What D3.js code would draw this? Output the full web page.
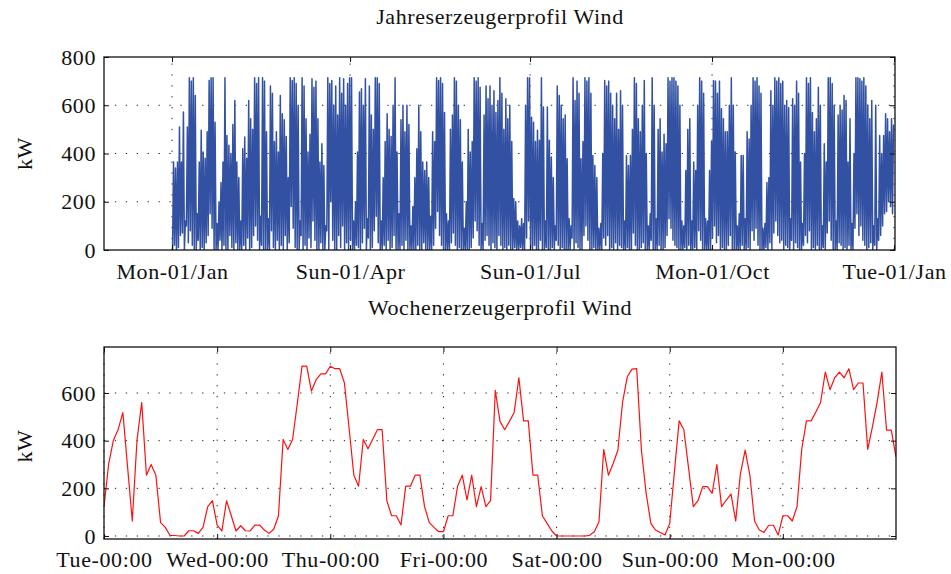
<!DOCTYPE html>
<html>
<head>
<meta charset="utf-8">
<script src="https://cdn.jsdelivr.net/npm/d3@7"></script>
<style>
  body { margin: 0; background: #fff; }
  svg { display: block; }
  text { font-family: "Liberation Serif", "Times New Roman", serif; fill: #111; letter-spacing: 0.6px; }
</style>
</head>
<body>
<svg id="chart" width="951" height="574"></svg>
<script>
// ---- Annual profile: daily low / high of the hourly output (kW), days counted from 01 Jan 2018 ----
const yearTickDays = [0, 90, 181, 273, 365];
const yearTickLabels = ["Mon-01/Jan", "Sun-01/Apr", "Sun-01/Jul", "Mon-01/Oct", "Tue-01/Jan"];
const yearTicksKW = [0, 200, 400, 600, 800];

const dayMax = [
  365,340,365,510,365,572,120,510,714,700,
  714,640,150,365,496,406,380,490,703,714,
  714,530,110,200,280,365,714,475,434,400,
  520,620,365,300,120,420,468,380,620,544,
  500,714,690,714,140,714,700,490,130,680,
  650,450,490,406,640,565,540,470,300,714,
  703,714,690,600,120,714,680,544,406,480,
  710,675,700,544,365,440,350,100,714,690,
  703,600,680,560,714,650,710,600,690,714,
  714,120,200,406,655,668,600,710,130,680,
  560,500,714,714,690,120,300,450,565,500,
  470,600,714,406,150,540,600,490,600,520,
  100,180,300,420,600,490,365,330,365,300,
  140,490,450,714,703,714,690,570,150,120,
  500,560,714,700,600,540,365,90,200,500,
  406,450,714,700,714,675,110,560,680,627,
  680,600,660,570,620,714,650,500,627,544,
  600,450,213,200,120,100,130,110,600,714,
  714,550,530,450,496,455,714,593,120,593,
  455,385,300,100,680,640,600,544,560,378,
  130,100,714,620,700,650,378,450,714,700,
  714,650,392,350,300,90,110,400,703,680,
  700,650,600,544,650,500,660,600,120,392,
  350,392,500,714,690,544,490,600,703,400,
  100,150,714,600,130,500,544,406,480,440,
  714,700,714,714,700,680,600,120,100,330,
  500,544,120,365,330,600,714,700,650,130,
  120,330,450,703,700,650,700,585,544,490,
  490,600,714,600,406,100,150,392,392,130,
  490,460,600,714,700,714,680,650,90,110,
  280,300,660,600,714,700,714,690,700,600,
  620,590,130,627,600,700,650,365,110,400,
  714,690,714,570,490,544,675,600,100,440,
  365,714,714,690,600,120,560,600,580,640,
  620,365,544,110,400,714,714,710,700,714,
  680,600,544,620,100,600,130,475,400,475,
  565,544,490,544,520
];

const dayMin = [
  0,20,0,10,60,70,0,100,30,80,
  20,0,0,40,0,10,0,30,60,150,
  90,0,0,0,40,0,20,0,0,60,
  10,0,30,0,0,0,20,0,50,0,
  10,60,100,40,0,20,0,0,0,0,
  80,10,0,40,0,20,0,60,0,30,
  180,90,10,0,0,60,0,20,0,50,
  10,120,40,0,0,30,0,0,80,0,
  200,40,0,0,60,10,100,0,30,0,
  40,0,0,20,10,0,30,90,0,50,
  0,10,80,140,30,0,0,20,0,40,
  0,10,60,0,0,0,20,0,40,0,
  0,0,0,0,20,0,0,30,0,0,
  0,0,20,90,160,60,20,0,0,0,
  0,30,70,20,0,10,0,0,0,0,
  0,10,50,120,80,20,0,0,40,60,
  20,0,30,10,0,60,20,0,10,0,
  20,0,0,10,0,0,10,0,0,50,
  120,10,0,20,0,0,40,0,0,10,
  0,0,10,0,40,20,0,10,0,0,
  0,0,50,0,30,10,0,0,60,100,
  40,0,0,10,0,0,0,0,50,20,
  60,0,10,0,30,0,20,10,0,0,
  10,0,0,70,20,0,0,10,30,0,
  0,0,40,0,0,0,20,0,0,10,
  60,130,90,40,20,10,0,0,0,10,
  0,20,0,0,10,0,80,40,0,0,
  0,0,0,50,100,30,60,0,10,0,
  0,20,60,0,0,0,0,0,20,0,
  0,10,0,80,40,90,20,0,0,0,
  10,0,30,0,70,120,60,30,40,0,
  20,10,0,40,0,30,10,0,0,20,
  60,30,80,0,10,0,20,0,0,10,
  0,70,120,40,0,0,0,30,20,0,
  10,0,20,0,0,90,150,60,100,40,
  20,0,10,30,0,20,0,40,60,100,
  150,160,200,180,150
];

// ---- Weekly profile: hourly output (kW), hour 0 = Tuesday 00:00 ----
const weekTickHours = [0, 24, 48, 72, 96, 120, 144];
const weekTickLabels = ["Tue-00:00", "Wed-00:00", "Thu-00:00", "Fri-00:00", "Sat-00:00", "Sun-00:00", "Mon-00:00"];
const weekTicksKW = [0, 200, 400, 600];

const weekKW = [
  123,304,402,447,518,290,63,402,560,255,300,255,56,36,2,2,0,0,22,22,11,36,123,148,
  46,21,148,85,21,43,22,21,46,46,25,11,28,84,405,363,405,555,713,713,608,656,680,680,
  712,702,702,642,450,255,209,405,366,406,446,446,148,85,85,46,209,209,255,255,123,56,36,18,
  18,85,85,209,255,151,255,123,207,123,148,611,481,446,481,518,664,483,483,255,255,84,53,21,
  0,0,0,0,0,0,0,3,18,60,363,255,304,360,562,668,700,702,360,179,53,25,15,4,
  53,270,483,446,285,123,148,207,207,179,300,123,151,176,63,262,360,255,63,25,15,45,45,4,
  85,85,63,123,363,483,483,520,560,688,614,664,688,664,702,614,642,642,363,458,562,688,444,444,
  332
];

// ---- layout ----
const svg = d3.select("#chart");
const FS = 22;

function drawGrid(g, x, y, gridX, gridY) {
  const [x0, x1] = x.range();
  const [y0, y1] = y.range(); // y0 bottom, y1 top
  const grid = g.append("g").attr("stroke", "#222").attr("stroke-width", 1)
    .attr("stroke-dasharray", "1.3,9.6").attr("fill", "none");
  gridX.forEach(v => grid.append("line")
    .attr("x1", x(v)).attr("x2", x(v)).attr("y1", y0).attr("y2", y1));
  gridY.forEach(v => grid.append("line")
    .attr("x1", x0).attr("x2", x1).attr("y1", y(v)).attr("y2", y(v)));
}

function drawAxes(g, x, y, opts) {
  const [x0, x1] = x.range();
  const [y0, y1] = y.range();

  const bottom = g.append("g").attr("transform", `translate(0,${y0})`)
    .call(d3.axisBottom(x).tickValues(opts.xTicks).tickFormat((d, i) => opts.xLabels[i])
      .tickSizeInner(-5).tickSizeOuter(0).tickPadding(opts.xPad));
  const top = g.append("g").attr("transform", `translate(0,${y1})`)
    .call(d3.axisTop(x).tickValues(opts.xTicks).tickFormat("").tickSizeInner(-5).tickSizeOuter(0));
  const left = g.append("g").attr("transform", `translate(${x0},0)`)
    .call(d3.axisLeft(y).tickValues(opts.yTicks).tickFormat(d3.format("d"))
      .tickSizeInner(-5).tickSizeOuter(0).tickPadding(8));
  const right = g.append("g").attr("transform", `translate(${x1},0)`)
    .call(d3.axisRight(y).tickValues(opts.yTicks).tickFormat("").tickSizeInner(-5).tickSizeOuter(0));

  [bottom, top, left, right].forEach(a => {
    a.select(".domain").remove();
    a.selectAll(".tick line").attr("stroke", "#111").attr("stroke-width", 1);
    a.selectAll("text").attr("font-family", "Liberation Serif, serif")
      .attr("font-size", FS).attr("fill", "#111");
  });

  g.append("rect").attr("x", x0).attr("y", y1).attr("width", x1 - x0).attr("height", y0 - y1)
    .attr("fill", "none").attr("stroke", "#111").attr("stroke-width", 1.3);
}

function labels(g, title, titleY, kwY) {
  g.append("text").attr("x", 500).attr("y", titleY).attr("text-anchor", "middle")
    .attr("font-size", FS).text(title);
  g.append("text").attr("transform", `translate(32,${kwY}) rotate(-90)`)
    .attr("text-anchor", "middle").attr("font-size", FS).text("kW");
}

// ---- annual panel ----
{
  const g = svg.append("g");
  const x = d3.scaleLinear().domain([-34.4, 365.5]).range([104, 895]);
  const y = d3.scaleLinear().domain([0, 800]).range([250, 57]);

  drawGrid(g, x, y, yearTickDays, [200, 400, 600]);

  const pts = [];
  dayMax.forEach((hi, d) => {
    pts.push([d + 0.25, dayMin[d]]);
    pts.push([d + 0.75, hi]);
  });
  g.append("clipPath").attr("id", "clipYear").append("rect")
    .attr("x", 104).attr("y", 57).attr("width", 791).attr("height", 193);
  g.append("path").datum(pts)
    .attr("clip-path", "url(#clipYear)")
    .attr("fill", "none").attr("stroke", "#3251a3").attr("stroke-width", 1.5)
    .attr("stroke-linejoin", "round")
    .attr("d", d3.line().x(p => x(p[0])).y(p => y(p[1])));

  drawAxes(g, x, y, { xTicks: yearTickDays, xLabels: yearTickLabels, yTicks: yearTicksKW, xPad: 13 });
  labels(g, "Jahreserzeugerprofil Wind", 24, 153.5);
}

// ---- weekly panel ----
{
  const g = svg.append("g");
  const x = d3.scaleLinear().domain([0, 168]).range([104, 896]);
  const y = d3.scaleLinear().domain([-12.6, 793]).range([539, 347]);

  drawGrid(g, x, y, weekTickHours, weekTicksKW);

  g.append("clipPath").attr("id", "clipWeek").append("rect")
    .attr("x", 104).attr("y", 347).attr("width", 792).attr("height", 192);
  g.append("path").datum(weekKW)
    .attr("clip-path", "url(#clipWeek)")
    .attr("fill", "none").attr("stroke", "#ff1010").attr("stroke-width", 1.2)
    .attr("stroke-linejoin", "round")
    .attr("d", d3.line().x((v, i) => x(i)).y(v => y(v)));

  drawAxes(g, x, y, { xTicks: weekTickHours, xLabels: weekTickLabels, yTicks: weekTicksKW, xPad: 12 });
  labels(g, "Wochenerzeugerprofil Wind", 315, 446);
}
</script>
</body>
</html>
